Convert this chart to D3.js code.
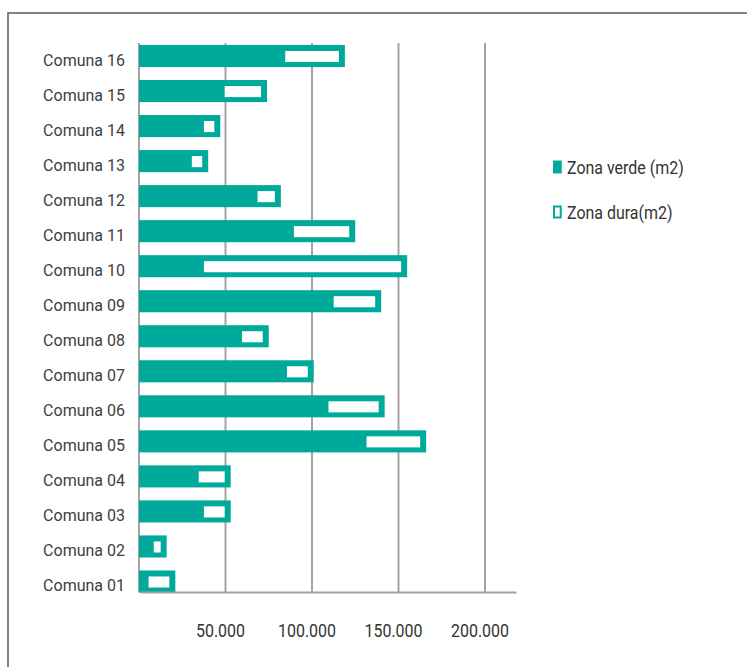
<!DOCTYPE html>
<html lang="es">
<head>
    <meta charset="UTF-8">
    <script src="https://d3js.org/d3.v7.min.js"></script>
    <title>Zonas verdes y duras por comuna</title>
    <style>
        body {
            margin: 0;
            overflow: hidden;
            background: white;
        }

        .cat text {
            font-family: Roboto, sans-serif;
            font-size: 16px;
            fill: #404040;
        }

        .cond {
            font-family: Roboto, sans-serif;
            font-size: 19px;
            fill: #333;
        }
    </style>
</head>
<body>
    <script>
        // comunas, de arriba hacia abajo
        const comunas = ["Comuna 16", "Comuna 15", "Comuna 14", "Comuna 13", "Comuna 12", "Comuna 11",
                         "Comuna 10", "Comuna 09", "Comuna 08", "Comuna 07", "Comuna 06", "Comuna 05",
                         "Comuna 04", "Comuna 03", "Comuna 02", "Comuna 01"];
        // zona verde (m2), largo de la barra verde
        const zonaVerde = [119000, 74000, 47000, 40000, 82000, 125000, 155000, 140000,
                           75000, 101000, 142000, 166000, 53000, 53000, 16000, 21000];
        // zona dura (m2), barra blanca
        const zonaDura = [31000, 21000, 6000, 6000, 10000, 32000, 114000, 24000,
                          12000, 12000, 29000, 31000, 15000, 12000, 4000, 12000];
        const ticks = [50000, 100000, 150000, 200000];
        const series = ["Zona verde (m2)", "Zona dura(m2)"];

        const width = 747,
              height = 667;
        const teal = "#00aa9a",
              grid = "#a3a3a3";

        const svg = d3.select("body")
            .append("svg")
            .attr("width", width)
            .attr("height", height);

        // marco exterior (solo se ven los lados izquierdo y superior)
        svg.append("rect")
            .attr("x", 8)
            .attr("y", 13)
            .attr("width", 800)
            .attr("height", 700)
            .attr("fill", "none")
            .attr("stroke", "#5a5a5a")
            .attr("stroke-width", 1.5);

        const x = d3.scaleLinear()
            .domain([0, 200000])
            .range([139, 485]);

        const y = d3.scaleBand()
            .domain(comunas)
            .range([38.5, 599])
            .paddingInner(0.37)
            .paddingOuter(0.185);

        const rows = comunas.map((c, i) => ({ comuna: c, verde: zonaVerde[i], dura: zonaDura[i] }));

        const gridTop = y(comunas[0]) - 2,
              gridBottom = y(comunas[comunas.length - 1]) + y.bandwidth();

        // rejilla vertical
        svg.append("g")
            .selectAll("line")
            .data([0].concat(ticks))
            .join("line")
            .attr("x1", d => x(d))
            .attr("x2", d => x(d))
            .attr("y1", gridTop)
            .attr("y2", gridBottom)
            .attr("stroke", grid)
            .attr("stroke-width", 2);

        // barras verdes
        svg.append("g")
            .selectAll("rect")
            .data(rows)
            .join("rect")
            .attr("x", x(0))
            .attr("y", d => y(d.comuna))
            .attr("width", d => x(d.verde) - x(0))
            .attr("height", y.bandwidth())
            .attr("fill", teal);

        // barras blancas (zona dura) dentro de la verde
        const inset = 6;
        svg.append("g")
            .selectAll("rect")
            .data(rows)
            .join("rect")
            .attr("x", d => x(d.verde) - inset - (x(d.dura) - x(0)))
            .attr("y", d => y(d.comuna) + 6)
            .attr("width", d => x(d.dura) - x(0))
            .attr("height", y.bandwidth() - 11)
            .attr("fill", "white");

        // eje inferior
        svg.append("line")
            .attr("x1", x(0) + 2)
            .attr("x2", x(220000) - 3)
            .attr("y1", gridBottom)
            .attr("y2", gridBottom)
            .attr("stroke", grid)
            .attr("stroke-width", 2);

        // etiquetas del eje x
        svg.append("g")
            .selectAll("text")
            .data(ticks)
            .join("text")
            .attr("class", "cond")
            .attr("x", d => x(d) - 5)
            .attr("y", 637)
            .attr("text-anchor", "middle")
            .text(d => d3.format(",")(d).replace(/,/g, "."))
            .each(function() {
                const w = this.getComputedTextLength();
                d3.select(this)
                  .attr("textLength", w * 0.84)
                  .attr("lengthAdjust", "spacingAndGlyphs");
            });

        // etiquetas de comunas (un poco por debajo del centro de la barra)
        svg.append("g")
            .attr("class", "cat")
            .selectAll("text")
            .data(comunas)
            .join("text")
            .attr("x", 125)
            .attr("y", d => y(d) + y.bandwidth() / 2 + 4)
            .attr("dy", "0.36em")
            .attr("text-anchor", "end")
            .text(d => d);

        // leyenda
        const legend = svg.append("g")
            .attr("transform", "translate(553, 167)");

        legend.selectAll("rect")
            .data(series)
            .join("rect")
            .attr("x", (d, i) => i ? 1 : 0)
            .attr("y", (d, i) => i * 45 - 6.5 + (i ? 1 : 0))
            .attr("width", (d, i) => i ? 6.7 : 8.7)
            .attr("height", (d, i) => i ? 11 : 13)
            .attr("fill", (d, i) => i ? "white" : teal)
            .attr("stroke", (d, i) => i ? teal : "none")
            .attr("stroke-width", 2);

        legend.selectAll("text")
            .data(series)
            .join("text")
            .attr("class", "cond")
            .attr("x", 14)
            .attr("y", (d, i) => i * 45)
            .attr("dy", "0.36em")
            .text(d => d)
            .each(function() {
                const w = this.getComputedTextLength();
                d3.select(this)
                  .attr("textLength", w * 0.84)
                  .attr("lengthAdjust", "spacingAndGlyphs");
            });
    </script>
</body>
</html>
